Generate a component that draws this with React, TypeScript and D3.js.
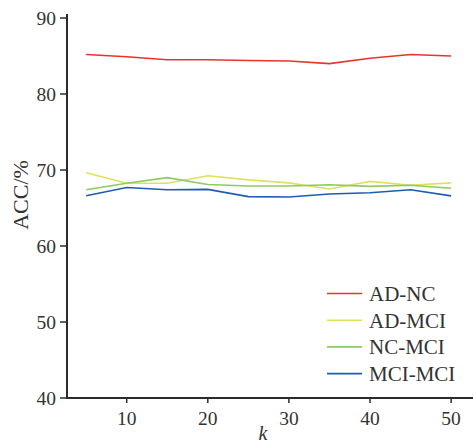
import React from "react";
import * as d3 from "d3";

const ks = [5, 10, 15, 20, 25, 30, 35, 40, 45, 50];
const adNc = [85.2, 84.9, 84.5, 84.5, 84.4, 84.35, 84.0, 84.7, 85.2, 85.0];
const adMci = [69.65, 68.25, 68.25, 69.25, 68.7, 68.3, 67.5, 68.5, 68.0, 68.3];
const ncMci = [67.4, 68.25, 69.0, 68.1, 67.9, 67.9, 68.05, 67.85, 68.0, 67.6];
const mciMci = [66.6, 67.7, 67.4, 67.45, 66.5, 66.45, 66.85, 67.0, 67.4, 66.6];
const seriesNames = ["AD-NC", "AD-MCI", "NC-MCI", "MCI-MCI"];
const colors = ["#e8342c", "#dde25c", "#8ccb64", "#1e5cb3"];
const xTicks = [10, 20, 30, 40, 50];
const yTicks = [40, 50, 60, 70, 80, 90];

export default function App() {
  const allSeries = [adNc, adMci, ncMci, mciMci];
  const x = d3.scaleLinear().domain([0, 10]).range([45.6, 126.7]);
  const y = d3.scaleLinear().domain([40, 90]).range([398, 18]);
  const axisLeft = 67;
  const axisRight = 473;
  const axisTop = 14;
  const axisBottom = 398;
  const line = d3
    .line<[number, number]>()
    .x((d) => x(d[0]))
    .y((d) => y(d[1]));
  const font = "'Liberation Serif', 'Times New Roman', serif";
  const axisColor = "#2b2b2b";
  return (
    <svg
      width={474}
      height={445}
      style={{ position: "absolute", left: 0, top: 0, background: "#fff" }}
      fontFamily={font}
    >
      {allSeries.map((vals, i) => (
        <path
          key={i}
          d={line(ks.map((k, j) => [k, vals[j]] as [number, number])) || ""}
          fill="none"
          stroke={colors[i]}
          strokeWidth={1.6}
        />
      ))}
      {/* axes */}
      <line x1={axisLeft} x2={axisLeft} y1={axisTop} y2={axisBottom + 1} stroke={axisColor} strokeWidth={2} />
      <line x1={axisLeft - 1} x2={axisRight} y1={axisBottom} y2={axisBottom} stroke={axisColor} strokeWidth={2} />
      {yTicks.map((t) => (
        <g key={t}>
          <line x1={axisLeft - 7} x2={axisLeft} y1={y(t)} y2={y(t)} stroke={axisColor} strokeWidth={1.5} />
          <text x={axisLeft - 11} y={y(t)} dy="0.35em" textAnchor="end" fontSize={19.5} fill="#333">
            {t}
          </text>
        </g>
      ))}
      {xTicks.map((t) => (
        <g key={t}>
          <line x1={x(t)} x2={x(t)} y1={axisBottom} y2={axisBottom + 5} stroke={axisColor} strokeWidth={1.5} />
          <text x={x(t)} y={axisBottom + 27} textAnchor="middle" fontSize={19.5} fill="#333">
            {t}
          </text>
        </g>
      ))}
      <text
        transform={`translate(28,195) rotate(-90)`}
        textAnchor="middle"
        fontSize={22}
        fill="#333"
      >
        ACC/%
      </text>
      <text x={263} y={440} textAnchor="middle" fontSize={20} fontStyle="italic" fill="#333">
        k
      </text>
      {seriesNames.map((name, i) => {
        const ly = 293.5 + i * 26.7;
        return (
          <g key={name}>
            <line x1={327} x2={362} y1={ly} y2={ly} stroke={colors[i]} strokeWidth={1.6} />
            <text x={369} y={ly} dy="0.35em" fontSize={21} fill="#333">
              {name}
            </text>
          </g>
        );
      })}
    </svg>
  );
}
